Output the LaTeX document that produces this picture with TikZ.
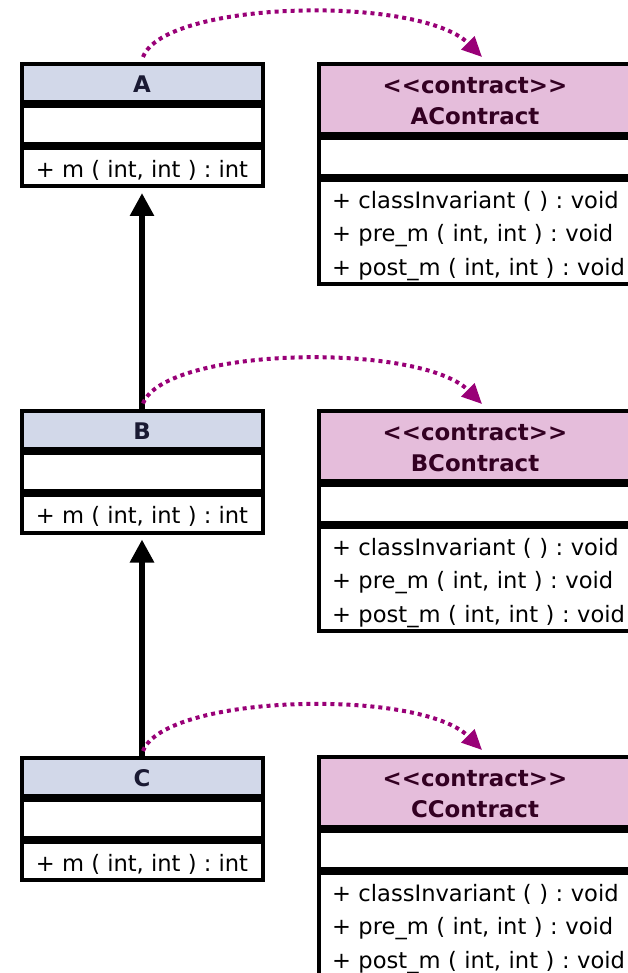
\documentclass[tikz,border=0pt]{standalone}
\usepackage{fontspec}
\setmainfont{DejaVu Sans}
\usetikzlibrary{arrows.meta,calc}

\definecolor{clsfill}{RGB}{210,216,233}
\definecolor{clstext}{RGB}{26,26,51}
\definecolor{ctfill}{RGB}{229,189,219}
\definecolor{cttext}{RGB}{51,0,34}
\definecolor{linkc}{RGB}{153,0,119}

\newcommand\umlsize{\frenchspacing\fontsize{22.6}{33.5}\selectfont}
\newcommand\umlhead{\frenchspacing\bfseries\fontsize{22.9}{31}\selectfont}
% invisible strut that pushes the first line of a compartment down a little
\newcommand\umlstrut[1]{\rule{0pt}{#1}}

\tikzset{
  box/.style={draw=black, line width=4pt, inner sep=0pt, outer sep=0pt,
    anchor=north west, font=\umlsize},
  clshead/.style={box, fill=clsfill, minimum width=241pt, minimum height=38pt,
    font=\umlhead, text=clstext},
  clsbody/.style={box, fill=white, minimum width=241pt, minimum height=38pt},
  cthead/.style={box, fill=ctfill, minimum width=312pt, minimum height=70pt,
    font=\umlhead, text=cttext, align=center},
  ctattr/.style={box, fill=white, minimum width=312pt, minimum height=38pt},
  ctops/.style={box, fill=white, minimum height=104pt, inner xsep=13pt,
    text width=300pt, align=left},
  inherit/.style={line width=6pt, -{Triangle[length=23pt,width=23pt]},
    shorten >=7pt},
  contractlink/.style={draw=linkc, line width=4pt, dash pattern=on 4pt off 4pt,
    -{Triangle[length=20pt,width=18pt,fill=linkc]}}
}

\begin{document}
\begin{tikzpicture}[x=1pt,y=-1pt]
\path[use as bounding box] (0,0) rectangle (628,973);
\fill[white] (0,0) rectangle (628,973);
\clip (0,0) rectangle (628,973);

% ---- classes A, B, C ----
\foreach \n/\t in {A/64, B/410.5, C/758}{
  \node[clshead] (\n head) at (21.5,\t) {\umlstrut{19pt}\n};
  \node[clsbody] (\n attr) at ($(\n head.south west)+(0,4)$) {};
  \node[clsbody] (\n ops)  at ($(\n attr.south west)+(0,4)$)
    {\umlstrut{23.5pt}+ m ( int, int ) : int};
}

% ---- contracts ----
\foreach \n/\t in {A/64, B/411, C/757}{
  \node[cthead] (\n chead) at (319,\t)
    {\umlstrut{21pt}<\kern0pt<contract>\kern0pt>\\\n Contract};
  \node[ctattr] (\n cattr) at ($(\n chead.south west)+(0,4)$) {};
  \node[ctops]  (\n cops)  at ($(\n cattr.south west)+(0,4)$)
    {\umlstrut{25pt}+ classInvariant ( ) : void\\+ pre\_m ( int, int ) : void\\+ post\_m ( int, int ) : void};
}

% ---- inheritance ----
\draw[inherit] (Bhead.north) -- (Aops.south);
\draw[inherit] (Chead.north) -- (Bops.south);

% ---- class to contract links ----
\foreach \n in {A,B,C}{
  \draw[contractlink] ($(\n head.north)+(1,-7)$)
    .. controls +(22,-57) and +(-62,-62) .. ($(\n chead.north west)+(163,-7)$);
}
\end{tikzpicture}
\end{document}
